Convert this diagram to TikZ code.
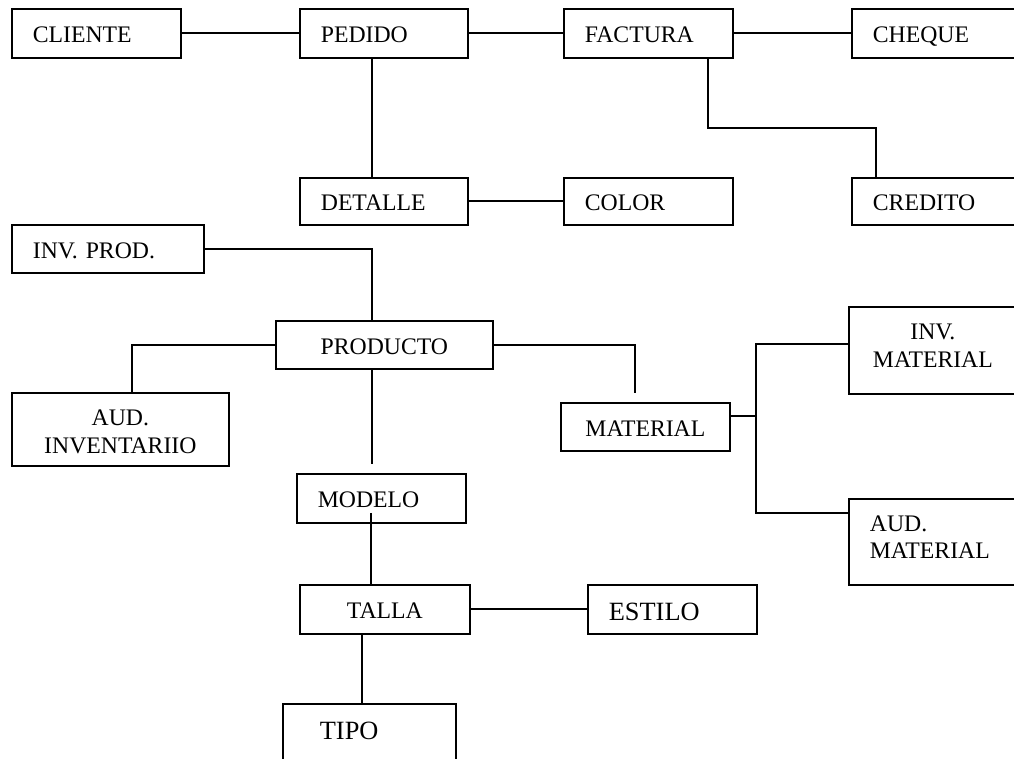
\documentclass[tikz,border=0pt]{standalone}
\usepackage{fontspec}
\setmainfont{Liberation Serif}
\begin{document}
\begin{tikzpicture}[x=0.02cm, y=-0.02cm,
  ent/.style={draw, line width=1pt, anchor=north west, inner ysep=0pt,
    font=\fontsize{13.5}{15.65}\selectfont, text height=0.375cm, text depth=0pt},
  lbox/.style n args={3}{ent, align=left, inner xsep=0.42cm,
    minimum width=#1, text width=#2, minimum height=#3},
  cbox/.style n args={3}{ent, align=center, inner xsep=0.1cm,
    minimum width=#1, text width=#2, minimum height=#3},
  big/.style={font=\fontsize{15}{18}\selectfont},
  link/.style={line width=1pt}
]
\useasboundingbox (0,0) rectangle (1014,759);
\clip (0,0) rectangle (1014,759);
\fill[white] (0,0) rectangle (1014,759);

% order and billing
\node[lbox={3.38cm}{2.54cm}{0.98cm}] (cliente) at (11,8) {CLIENTE};
\node[lbox={3.36cm}{2.52cm}{0.98cm}] (pedido) at (299,8) {PEDIDO};
\node[lbox={3.38cm}{2.54cm}{0.98cm}] (factura) at (563,8) {FACTURA};
\node[lbox={3.60cm}{2.76cm}{0.98cm}] (cheque) at (851,8) {CHEQUE};
\node[lbox={3.36cm}{2.52cm}{0.94cm}] (detalle) at (299,177) {DETALLE};
\node[lbox={3.38cm}{2.54cm}{0.94cm}] (color) at (563,177) {COLOR};
\node[lbox={3.60cm}{2.76cm}{0.94cm}] (credito) at (851,177) {CREDITO};

% product side
\node[lbox={3.84cm}{3.00cm}{0.96cm}] (invprod) at (11,224) {INV. PROD.};
\node[cbox={4.34cm}{4.14cm}{0.96cm}] (producto) at (275,320) {PRODUCTO};
\node[cbox={4.34cm}{4.14cm}{1.46cm}, text depth=0.515cm] (audinv) at (11,392) {AUD.\\INVENTARIIO};
\node[cbox={3.38cm}{3.18cm}{0.96cm}] (material) at (560,402) {MATERIAL};
\node[cbox={3.36cm}{3.16cm}{1.74cm}, text depth=0.805cm] (invmat) at (848,306) {INV.\\MATERIAL};
\node[lbox={3.60cm}{2.76cm}{1.72cm}, text depth=0.8cm] (audmat) at (848,498) {AUD.\\MATERIAL};
\node[lbox={3.38cm}{2.54cm}{0.98cm}] (modelo) at (296,473) {MODELO};
\node[cbox={3.40cm}{3.20cm}{0.98cm}] (talla) at (299,584) {TALLA};
\node[lbox={3.38cm}{2.54cm}{0.98cm}, big, text height=0.44cm] (estilo) at (587,584) {ESTILO};
\node[lbox={3.46cm}{1.98cm}{1.2cm}, inner xsep=0.74cm, big, text height=0.22cm] (tipo) at (282,703) {TIPO};

% connector columns and bends
\coordinate (c372) at (372,0);
\coordinate (c362) at (362,0);
\coordinate (c132) at (132,0);
\coordinate (c708) at (708,128);
\coordinate (c876) at (876,128);
\coordinate (matstub) at (635,393);
\coordinate (modstub) at (372,464);
\coordinate (modin) at (371,513);
\coordinate (mj) at (756,416);
\coordinate (mt) at (756,344);
\coordinate (mb) at (756,513);

\draw[link] (cliente.east) -- (pedido.west);
\draw[link] (pedido.east) -- (factura.west);
\draw[link] (factura.east) -- (cheque.west);
\draw[link] (pedido.south -| c372) -- (detalle.north -| c372);
\draw[link] (detalle.east) -- (color.west);
\draw[link] (factura.south -| c708) -- (c708) -| (credito.north -| c876);

\draw[link] (invprod.east) -| (producto.north -| c372);
\draw[link] (producto.west) -| (audinv.north -| c132);
\draw[link] (producto.east) -| (matstub);
\draw[link] (producto.south -| modstub) -- (modstub);
\draw[link] (modin) -- (talla.north -| modin);
\draw[link] (talla.east) -- (estilo.west);
\draw[link] (talla.south -| c362) -- (tipo.north -| c362);

\draw[link] (material.east |- mj) -- (mj);
\draw[link] (invmat.west |- mt) -- (mt) -- (mb) -- (audmat.west |- mb);
\end{tikzpicture}
\end{document}
